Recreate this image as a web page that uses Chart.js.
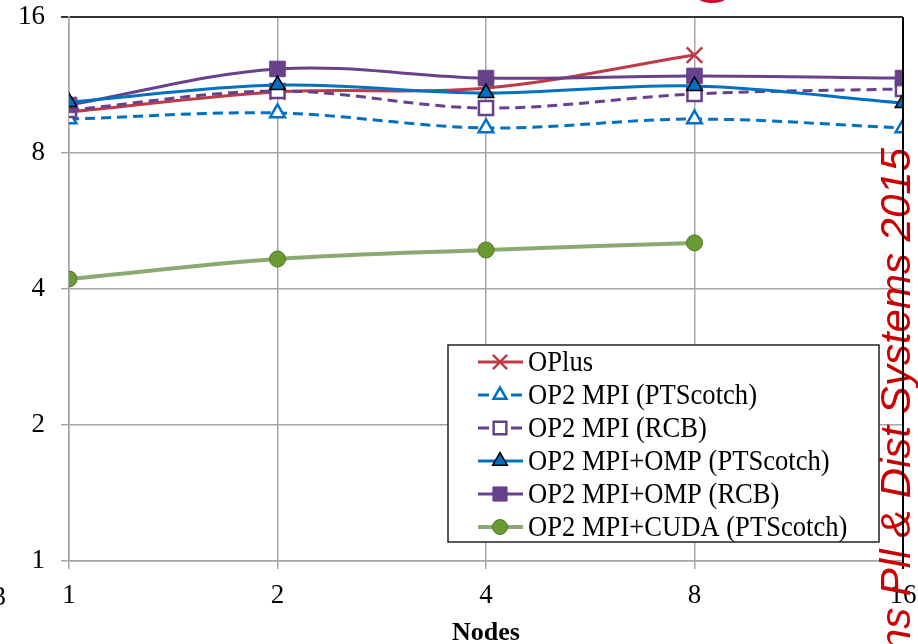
<!DOCTYPE html>
<html><head><meta charset="utf-8">
<style>html,body{margin:0;padding:0;background:#fff;}canvas{display:block;}</style>
<script src="https://cdn.jsdelivr.net/npm/chart.js@4.4.0/dist/chart.umd.min.js"></script>
</head><body>
<canvas id="c" width="918" height="644"></canvas>
<script>
// ---- data ----
const nodes = [1, 2, 4, 8, 16];
const tickValues = [1, 2, 4, 8, 16];
const seriesNames = ["OPlus", "OP2 MPI (PTScotch)", "OP2 MPI (RCB)", "OP2 MPI+OMP (PTScotch)", "OP2 MPI+OMP (RCB)", "OP2 MPI+CUDA (PTScotch)"];
const oplus  = [9.86, 10.92, 11.14, 13.18];
const mpiPts = [9.51, 9.81, 9.09, 9.51, 9.09];
const mpiRcb = [9.96, 10.97, 10.06, 10.81, 11.09];
const ompPts = [10.37, 11.31, 10.86, 11.26, 10.32];
const ompRcb = [10.22, 12.28, 11.72, 11.85, 11.72];
const cuda   = [4.21, 4.66, 4.88, 5.06];
const xTitle = "Nodes";
const watermark = "Trans Pll & Dist Systems 2015";

// ---- styles ----
const RED = '#BE3A46', BLUE = '#0070C0', PURPLE = '#68418A';
const GREENLINE = 'rgba(128,160,98,0.9)', GREEN = '#6A9A34', GREENDARK = '#4E7626';
const GRID = '#A6A6A6';
const SERIF = '"Liberation Serif", "Times New Roman", serif';

function pts(vals) { return vals.map((v, i) => ({ x: nodes[i], y: v })); }

const datasets = [
  { label: seriesNames[0], data: pts(oplus), borderColor: RED, backgroundColor: RED, borderWidth: 3,
    pointStyle: 'crossRot', pointRadius: 11, pointBorderColor: RED, pointBackgroundColor: RED, pointBorderWidth: 2.5, order: 6,
    lg: { dash: false, style: 'crossRot', r: 10, fill: RED, stroke: RED, lw: 2.5, color: RED, width: 3 } },
  { label: seriesNames[1], data: pts(mpiPts), borderColor: BLUE, borderWidth: 3, borderDash: [10, 6],
    pointStyle: 'triangle', pointRadius: 8.5, pointBackgroundColor: '#fff', pointBorderColor: BLUE, pointBorderWidth: 2.5, order: 5,
    lg: { dash: true, style: 'triangle', r: 7.5, fill: '#fff', stroke: BLUE, lw: 2.5, color: BLUE, width: 3 } },
  { label: seriesNames[2], data: pts(mpiRcb), borderColor: PURPLE, borderWidth: 3, borderDash: [10, 6],
    pointStyle: 'rect', pointRadius: 10, pointBackgroundColor: '#fff', pointBorderColor: PURPLE, pointBorderWidth: 2.5, order: 4,
    lg: { dash: true, style: 'rect', r: 9, fill: '#fff', stroke: PURPLE, lw: 2.5, color: PURPLE, width: 3 } },
  { label: seriesNames[3], data: pts(ompPts), borderColor: BLUE, borderWidth: 3,
    pointStyle: 'triangle', pointRadius: 9, pointBackgroundColor: BLUE, pointBorderColor: '#000', pointBorderWidth: 1.5, order: 2,
    lg: { dash: false, style: 'triangle', r: 8.5, fill: BLUE, stroke: '#000', lw: 1.5, color: BLUE, width: 3 } },
  { label: seriesNames[4], data: pts(ompRcb), borderColor: PURPLE, borderWidth: 3,
    pointStyle: 'rect', pointRadius: 11, pointBackgroundColor: PURPLE, pointBorderColor: PURPLE, pointBorderWidth: 1, order: 3,
    lg: { dash: false, style: 'rect', r: 10, fill: PURPLE, stroke: PURPLE, lw: 1, color: PURPLE, width: 3 } },
  { label: seriesNames[5], data: pts(cuda), borderColor: GREENLINE, borderWidth: 4,
    pointStyle: 'circle', pointRadius: 8, pointBackgroundColor: GREEN, pointBorderColor: GREENDARK, pointBorderWidth: 1, order: 1,
    lg: { dash: false, style: 'circle', r: 7.5, fill: GREEN, stroke: GREENDARK, lw: 1, color: GREENLINE, width: 4 } }
];
datasets.forEach(d => { d.tension = 0.35; d.fill = false; });

function drawMarker(ctx, m, x, y) {
  ctx.save();
  ctx.setLineDash([]);
  ctx.beginPath();
  const r = m.r;
  if (m.style === 'triangle') {
    for (let k = 0; k < 3; k++) {
      const a = k * 2 * Math.PI / 3;
      const px = x + Math.sin(a) * r, py = y - Math.cos(a) * r;
      k === 0 ? ctx.moveTo(px, py) : ctx.lineTo(px, py);
    }
    ctx.closePath();
  } else if (m.style === 'rect') {
    const s = r * Math.SQRT1_2;
    ctx.rect(x - s, y - s, 2 * s, 2 * s);
  } else if (m.style === 'circle') {
    ctx.arc(x, y, r, 0, Math.PI * 2);
  } else if (m.style === 'crossRot') {
    const s = r * Math.SQRT1_2;
    ctx.moveTo(x - s, y - s); ctx.lineTo(x + s, y + s);
    ctx.moveTo(x - s, y + s); ctx.lineTo(x + s, y - s);
  }
  ctx.fillStyle = m.fill; ctx.strokeStyle = m.stroke; ctx.lineWidth = m.lw;
  if (m.style !== 'crossRot') ctx.fill();
  ctx.stroke();
  ctx.restore();
}

const overlay = {
  id: 'overlay',
  afterDraw(chart) {
    const ctx = chart.ctx;
    const xs = chart.scales.x;
    // legend box
    const bx = 448, by = 345, bw = 431, bh = 197;
    ctx.save();
    ctx.fillStyle = '#fff';
    ctx.fillRect(bx, by, bw, bh);
    ctx.strokeStyle = '#222'; ctx.lineWidth = 1.5;
    ctx.strokeRect(bx, by, bw, bh);
    const rowY0 = 362, rowH = 33;
    chart.data.datasets.forEach((d, i) => {
      const y = rowY0 + i * rowH;
      const m = d.lg;
      ctx.save();
      ctx.strokeStyle = m.color; ctx.lineWidth = m.width;
      ctx.beginPath();
      if (m.dash) {
        ctx.moveTo(478, y); ctx.lineTo(489, y);
        ctx.moveTo(511, y); ctx.lineTo(522, y);
      } else {
        ctx.moveTo(478, y); ctx.lineTo(523, y);
      }
      ctx.stroke();
      ctx.restore();
      drawMarker(ctx, m, 500, y);
      ctx.save();
      ctx.fillStyle = '#000';
      ctx.font = '27px ' + SERIF;
      ctx.textAlign = 'left'; ctx.textBaseline = 'middle';
      ctx.translate(528, y + 1);
      ctx.scale(0.985, 1.08);
      ctx.fillText(d.label, 0, 0);
      ctx.restore();
    });
    ctx.restore();

    // watermark text (rotated)
    ctx.save();
    ctx.translate(910, 148);
    ctx.rotate(-Math.PI / 2);
    ctx.font = 'italic 42px "Liberation Sans", Arial, sans-serif';
    ctx.fillStyle = '#CC0000';
    ctx.textAlign = 'right'; ctx.textBaseline = 'alphabetic';
    ctx.fillText(watermark, 0, 0);
    ctx.restore();

    // right border redrawn on top
    const xr = xs.getPixelForValue(16);
    ctx.save();
    ctx.strokeStyle = '#000'; ctx.lineWidth = 2;
    ctx.beginPath();
    ctx.moveTo(xr, chart.chartArea.top); ctx.lineTo(xr, chart.chartArea.bottom + 2);
    ctx.stroke();
    ctx.restore();

    // cropped fragments from surrounding page
    ctx.save();
    ctx.fillStyle = '#C8102E';
    ctx.font = 'bold 80px "Liberation Sans", Arial, sans-serif';
    ctx.textAlign = 'center'; ctx.textBaseline = 'alphabetic';
    ctx.fillText('g', 713, -14);
    ctx.fillStyle = '#000';
    ctx.font = '27px ' + SERIF;
    ctx.textAlign = 'right';
    ctx.fillText('3', 6, 605);
    ctx.restore();
  }
};

new Chart(document.getElementById('c'), {
  type: 'line',
  data: { datasets },
  options: {
    responsive: false,
    animation: false,
    events: [],
    layout: { padding: { top: 17, right: 15, left: 0, bottom: 0 } },
    plugins: { legend: { display: false }, tooltip: { enabled: false } },
    scales: {
      x: {
        type: 'logarithmic', min: 1, max: 16,
        afterBuildTicks: s => { s.ticks = tickValues.map(v => ({ value: v })); },
        afterFit: s => { s.height = 83; s.paddingLeft = 0; s.paddingRight = 0; },
        grid: {
          color: c => (c.tick && c.tick.value === 16) ? '#000' : GRID,
          lineWidth: c => (c.tick && c.tick.value === 16) ? 2 : 1.5,
          tickLength: 8
        },
        border: { color: GRID, width: 1.5 },
        ticks: {
          callback: v => String(v), color: '#000', padding: 11, maxRotation: 0, autoSkip: false,
          font: { family: SERIF, size: 27 }
        },
        title: {
          display: true, text: xTitle, color: '#000',
          font: { family: SERIF, size: 26, weight: 'bold' },
          padding: { top: 0, bottom: -5 }
        }
      },
      y: {
        type: 'logarithmic', min: 1, max: 16,
        afterBuildTicks: s => { s.ticks = tickValues.map(v => ({ value: v })); },
        afterFit: s => { s.width = 69; s.paddingTop = 0; s.paddingBottom = 0; },
        grid: {
          color: c => (c.tick && c.tick.value === 16) ? '#333' : GRID,
          lineWidth: c => (c.tick && c.tick.value === 16) ? 2 : 1.5,
          tickLength: 8
        },
        border: { color: GRID, width: 1.5 },
        ticks: {
          callback: v => String(v), color: '#000', padding: 16, autoSkip: false,
          font: { family: SERIF, size: 27 }
        }
      }
    }
  },
  plugins: [overlay]
});
</script>
</body></html>
